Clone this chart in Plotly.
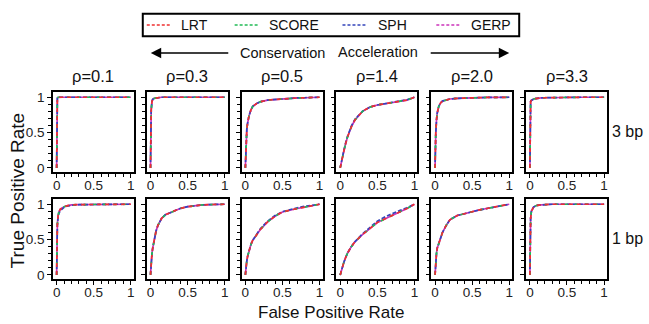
import plotly.graph_objects as go

W, H = 649, 324

METHODS = ["LRT", "SCORE", "SPH", "GERP"]
COLORS = {"LRT": "#ee3030", "SCORE": "#22bb55", "SPH": "#3344bb", "GERP": "#cc33bb"}
RHO_LABELS = ["ρ=0.1", "ρ=0.3", "ρ=0.5", "ρ=1.4", "ρ=2.0", "ρ=3.3"]
ROW_LABELS = ["3 bp", "1 bp"]
TICK_VALS = [0, 0.5, 1]
TICK_TEXT = ["0", "0.5", "1"]

FPR = [0, 0.005, 0.01, 0.02, 0.03, 0.05, 0.075, 0.1, 0.15, 0.2, 0.3, 0.4, 0.5, 0.6, 0.7, 0.8, 0.9, 1.0]

# ---- 3 bp row ----
T3_01 = [0, 0.97, 0.99, 1.0, 1.0, 1.0, 1.0, 1.0, 1.0, 1.0, 1.0, 1.0, 1.0, 1.0, 1.0, 1.0, 1.0, 1.0]
T3_01_GERP = [0, 0.95, 0.985, 0.998, 1.0, 1.0, 1.0, 1.0, 1.0, 1.0, 1.0, 1.0, 1.0, 1.0, 1.0, 1.0, 1.0, 1.0]
T3_03 = [0, 0.6, 0.82, 0.94, 0.97, 0.985, 0.99, 0.995, 1.0, 1.0, 1.0, 1.0, 1.0, 1.0, 1.0, 1.0, 1.0, 1.0]
T3_05 = [0, 0.25, 0.4, 0.55, 0.63, 0.74, 0.82, 0.87, 0.91, 0.935, 0.96, 0.97, 0.98, 0.985, 0.99, 0.993, 0.996, 1.0]
T3_14 = [0, 0.03, 0.06, 0.11, 0.16, 0.24, 0.35, 0.44, 0.58, 0.68, 0.8, 0.86, 0.89, 0.91, 0.92, 0.94, 0.96, 1.0]
T3_14_SPH = [0, 0.03, 0.06, 0.11, 0.16, 0.25, 0.36, 0.45, 0.59, 0.69, 0.8, 0.86, 0.89, 0.91, 0.93, 0.95, 0.965, 1.0]
T3_20 = [0, 0.35, 0.5, 0.68, 0.78, 0.87, 0.92, 0.945, 0.965, 0.975, 0.985, 0.99, 0.993, 0.995, 0.997, 0.998, 0.999, 1.0]
T3_33 = [0, 0.92, 0.94, 0.955, 0.965, 0.975, 0.98, 0.985, 0.99, 0.993, 0.996, 0.998, 1.0, 1.0, 1.0, 1.0, 1.0, 1.0]

# ---- 1 bp row ----
T1_01 = [0, 0.55, 0.72, 0.84, 0.89, 0.93, 0.95, 0.965, 0.98, 0.99, 0.995, 0.997, 0.998, 0.999, 1.0, 1.0, 1.0, 1.0]
T1_01_SPH = [0, 0.53, 0.7, 0.82, 0.87, 0.91, 0.94, 0.955, 0.975, 0.985, 0.993, 0.996, 0.998, 0.999, 1.0, 1.0, 1.0, 1.0]
T1_03 = [0, 0.12, 0.2, 0.3, 0.38, 0.5, 0.62, 0.7, 0.8, 0.85, 0.9, 0.94, 0.965, 0.98, 0.99, 0.995, 0.998, 1.0]
T1_05 = [0, 0.08, 0.13, 0.2, 0.26, 0.35, 0.43, 0.49, 0.57, 0.64, 0.75, 0.83, 0.89, 0.92, 0.94, 0.96, 0.98, 1.0]
T1_05_SPH = [0, 0.08, 0.13, 0.2, 0.26, 0.35, 0.43, 0.49, 0.58, 0.65, 0.76, 0.84, 0.895, 0.925, 0.95, 0.97, 0.985, 1.0]
T1_14 = [0, 0.02, 0.04, 0.08, 0.12, 0.18, 0.25, 0.31, 0.4, 0.47, 0.57, 0.65, 0.74, 0.79, 0.84, 0.88, 0.94, 1.0]
T1_14_SPH = [0, 0.02, 0.04, 0.08, 0.12, 0.18, 0.25, 0.31, 0.4, 0.47, 0.58, 0.67, 0.76, 0.82, 0.87, 0.91, 0.95, 1.0]
T1_20 = [0, 0.12, 0.2, 0.31, 0.38, 0.45, 0.52, 0.6, 0.7, 0.78, 0.84, 0.87, 0.9, 0.92, 0.94, 0.96, 0.98, 1.0]
T1_33 = [0, 0.6, 0.8, 0.9, 0.93, 0.96, 0.975, 0.985, 0.99, 0.995, 1.0, 1.0, 1.0, 1.0, 1.0, 1.0, 1.0, 1.0]

PANELS = [
    [  # 3 bp
        {"LRT": T3_01, "SCORE": T3_01, "SPH": T3_01, "GERP": T3_01_GERP},
        {"LRT": T3_03, "SCORE": T3_03, "SPH": T3_03, "GERP": T3_03},
        {"LRT": T3_05, "SCORE": T3_05, "SPH": T3_05, "GERP": T3_05},
        {"LRT": T3_14, "SCORE": T3_14, "SPH": T3_14_SPH, "GERP": T3_14},
        {"LRT": T3_20, "SCORE": T3_20, "SPH": T3_20, "GERP": T3_20},
        {"LRT": T3_33, "SCORE": T3_33, "SPH": T3_33, "GERP": T3_33},
    ],
    [  # 1 bp
        {"LRT": T1_01, "SCORE": T1_01, "SPH": T1_01_SPH, "GERP": T1_01},
        {"LRT": T1_03, "SCORE": T1_03, "SPH": T1_03, "GERP": T1_03},
        {"LRT": T1_05, "SCORE": T1_05, "SPH": T1_05_SPH, "GERP": T1_05},
        {"LRT": T1_14, "SCORE": T1_14, "SPH": T1_14_SPH, "GERP": T1_14},
        {"LRT": T1_20, "SCORE": T1_20, "SPH": T1_20, "GERP": T1_20},
        {"LRT": T1_33, "SCORE": T1_33, "SPH": T1_33, "GERP": T1_33},
    ],
]

FONT = "Liberation Sans, Arial, Helvetica, sans-serif"

# layout geometry in pixels
COL_LEFT = [53, 147, 242, 337, 432, 527]
PANEL_W = 81
ROW_TOP = [92, 201]
PANEL_H = 81
LEGEND_BOX = (143, 12, 520, 35)
LEGEND_SWATCH_X = [147, 235, 343, 437]
LEGEND_TEXT_X = [179, 267, 377, 470]

fig = go.Figure()
layout = {}
DRAW_ORDER = ["GERP", "SPH", "SCORE", "LRT"]
DASHES = {"GERP": "solid", "SPH": "4px,2px", "SCORE": "3px,7px", "LRT": "4px,4px"}

idx = 0
for r in range(2):
    for c in range(6):
        idx += 1
        xa = "x" if idx == 1 else f"x{idx}"
        ya = "y" if idx == 1 else f"y{idx}"
        for m in DRAW_ORDER:
            fig.add_trace(go.Scatter(
                x=FPR, y=PANELS[r][c][m], mode="lines", name=m,
                line=dict(color=COLORS[m], width=1.7, dash=DASHES[m]),
                xaxis=xa, yaxis=ya, showlegend=False, hoverinfo="skip",
            ))
        x0 = COL_LEFT[c] / W
        x1 = (COL_LEFT[c] + PANEL_W) / W
        y1 = 1 - ROW_TOP[r] / H
        y0 = 1 - (ROW_TOP[r] + PANEL_H) / H
        common = dict(showline=True, linecolor="black", linewidth=1.5, mirror=True,
                      showgrid=False, zeroline=False, ticks="outside", ticklen=4,
                      tickwidth=1, tickcolor="black",
                      tickfont=dict(family=FONT, size=13.5, color="#222"),
                      tickvals=TICK_VALS, ticktext=TICK_TEXT,
                      minor=dict(ticks="outside", ticklen=3, tickwidth=1,
                                 tickcolor="black", dtick=0.1, tick0=0, showgrid=False),
                      fixedrange=True)
        layout["xaxis" if idx == 1 else f"xaxis{idx}"] = dict(
            common, domain=[x0, x1], range=[-0.05, 1.04], anchor=ya, ticklabelstandoff=-4)
        layout["yaxis" if idx == 1 else f"yaxis{idx}"] = dict(
            common, domain=[y0, y1], range=[-0.055, 1.07], anchor=xa,
            showticklabels=(c == 0), ticklabelstandoff=0)

fig.update_layout(**layout)


def label(text, xpx, ypx, size, angle=0, xanchor="center"):
    return dict(text=text, xref="paper", yref="paper", x=xpx / W, y=1 - ypx / H,
                xanchor=xanchor, yanchor="middle", textangle=angle, showarrow=False,
                font=dict(family=FONT, size=size, color="#111"))


annotations = []
for c, lab in enumerate(RHO_LABELS):
    annotations.append(label(lab, COL_LEFT[c] + PANEL_W / 2, 75, 16.5))
for r, lab in enumerate(ROW_LABELS):
    annotations.append(label(lab, 628, ROW_TOP[r] + 40, 16))
annotations.append(label("True Positive Rate", 17, 192, 19, angle=-90))
annotations.append(label("False Positive Rate", 332, 316, 17))
annotations.append(label("Conservation", 283, 52, 14.5))
annotations.append(label("Acceleration", 379, 51, 14.5))
# arrows
annotations.append(dict(text="", xref="paper", yref="paper", x=151 / W, y=1 - 52 / H,
                        ax=79, ay=0, axref="pixel", ayref="pixel", showarrow=True,
                        arrowhead=2, arrowsize=1.3, arrowwidth=1.6, arrowcolor="black"))
annotations.append(dict(text="", xref="paper", yref="paper", x=510 / W, y=1 - 52 / H,
                        ax=-80, ay=0, axref="pixel", ayref="pixel", showarrow=True,
                        arrowhead=2, arrowsize=1.3, arrowwidth=1.6, arrowcolor="black"))

# legend (drawn as box + dashed swatches + labels)
shapes = [dict(type="rect", xref="paper", yref="paper",
               x0=LEGEND_BOX[0] / W, x1=LEGEND_BOX[2] / W,
               y0=1 - LEGEND_BOX[3] / H, y1=1 - LEGEND_BOX[1] / H,
               line=dict(color="black", width=2), fillcolor="white")]
ly = (LEGEND_BOX[1] + LEGEND_BOX[3]) / 2
for m, sx, tx in zip(METHODS, LEGEND_SWATCH_X, LEGEND_TEXT_X):
    shapes.append(dict(type="line", xref="paper", yref="paper",
                       x0=sx / W, x1=(sx + 23) / W, y0=1 - ly / H, y1=1 - ly / H,
                       line=dict(color=COLORS[m], width=1.6, dash="3px,2px")))
    annotations.append(label(m, tx, ly, 14, xanchor="left"))

fig.update_layout(
    width=W, height=H, margin=dict(l=0, r=0, t=0, b=0),
    paper_bgcolor="white", plot_bgcolor="white",
    annotations=annotations, shapes=shapes, showlegend=False,
    font=dict(family=FONT),
)

fig.write_html("out.html")
